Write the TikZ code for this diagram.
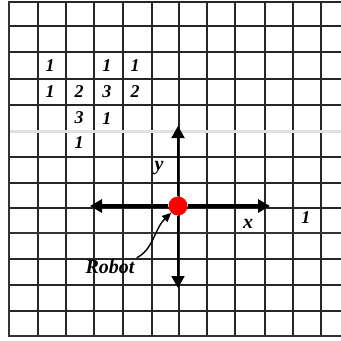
\documentclass[tikz,border=0pt]{standalone}
\usepackage{fontspec}
\setmainfont{Liberation Serif}
\usetikzlibrary{arrows.meta}
\begin{document}
\begin{tikzpicture}[x=1pt,y=-1pt,
    gridline/.style={line width=1.3pt,black!85},
    border/.style={line width=2.6pt,black!80},
    num/.style={font=\fontsize{18}{18}\selectfont\bfseries\itshape,inner sep=0pt},
    axislabel/.style={font=\fontsize{20}{20}\selectfont\bfseries\itshape,inner sep=0pt},
    axis/.style={line width=3.5pt,-{Triangle[length=12pt,width=13pt]}},
    thinaxis/.style={line width=2pt,-{Triangle[length=12pt,width=13pt]}},
    robotdot/.style={circle,fill=red,minimum size=19pt,inner sep=0pt}
]
\useasboundingbox (0,0) rectangle (341,341);
% grid
\foreach \x in {38,66,94,123,152,179,207,235,265,293,321}
  \draw[gridline] (\x,2) -- (\x,336);
\foreach \y in {2,26,52,79,105,157,183,208,259,285,311}
  \draw[gridline] (9,\y) -- (341,\y);
\draw[line width=3pt,black!12] (9,131) -- (341,131);
\draw[border] (9,233) -- (341,233);
\draw[border] (9,336) -- (341,336);
\draw[border] (9,1) -- (9,337);

% numbers
\node[num] (n21) at (50,66)  {1};
\node[num] (n23) at (107,66) {1};
\node[num] (n24) at (135,66) {1};
\node[num] (n31) at (50,92)  {1};
\node[num] (n32) at (79,92)  {2};
\node[num] (n33) at (107,92) {3};
\node[num] (n34) at (135,92) {2};
\node[num] (n42) at (79,118) {3};
\node[num] (n43) at (107,119) {1};
\node[num] (n52) at (79,143) {1};
\node[num] (n70) at (306,218) {1};

% robot and axes
\node[robotdot] (robot) at (178,206) {};
\coordinate (xr) at (270,206);
\coordinate (xl) at (90,206);
\coordinate (yt) at (178,126);
\coordinate (yb) at (178,288);
\draw[axis] (robot) -- (xr);
\draw[axis] (robot) -- (xl);
\draw[thinaxis] (robot) -- (yt);
\draw[thinaxis] (robot) -- (yb);
\node[axislabel] (ylab) at (159,168) {y};
\node[axislabel] (xlab) at (248,224) {x};

\node[axislabel,inner sep=2pt] (robotlab) at (110,267) {Robot};
\draw[line width=1.4pt,-{Triangle[length=9pt,width=8pt]}]
  (robotlab.north east) .. controls (153,250) and (155,228) .. (robot.south west);
\end{tikzpicture}
\end{document}
